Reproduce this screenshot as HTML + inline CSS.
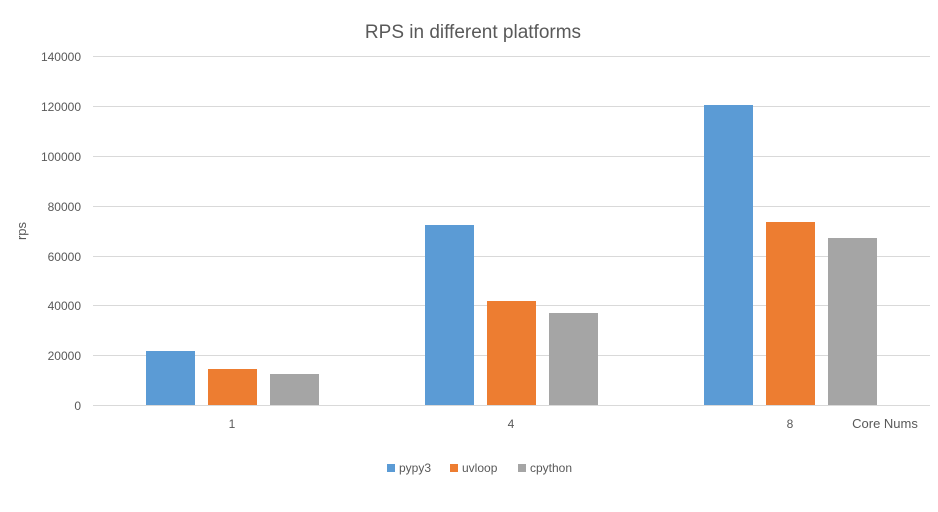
<!DOCTYPE html>
<html><head><meta charset="utf-8"><style>body{margin:0;background:#fff}svg{display:block}</style></head><body>
<svg width="938" height="512" xmlns="http://www.w3.org/2000/svg" font-family="'Liberation Sans',sans-serif">
<rect width="938" height="512" fill="#fff"/>
<text x="473" y="38" text-anchor="middle" font-size="19" fill="#595959">RPS in different platforms</text>
<g stroke="#d9d9d9" stroke-width="1">
<line x1="93" x2="930" y1="56.5" y2="56.5"/><line x1="93" x2="930" y1="106.5" y2="106.5"/>
<line x1="93" x2="930" y1="156.5" y2="156.5"/><line x1="93" x2="930" y1="206.5" y2="206.5"/>
<line x1="93" x2="930" y1="256.5" y2="256.5"/><line x1="93" x2="930" y1="305.5" y2="305.5"/>
<line x1="93" x2="930" y1="355.5" y2="355.5"/><line x1="93" x2="930" y1="405.5" y2="405.5"/>
</g>
<g font-size="12" fill="#595959" text-anchor="end">
<text x="81" y="61">140000</text><text x="81" y="111">120000</text><text x="81" y="161">100000</text>
<text x="81" y="211">80000</text><text x="81" y="261">60000</text><text x="81" y="310">40000</text>
<text x="81" y="360">20000</text><text x="81" y="410">0</text>
</g>
<text transform="translate(26,231) rotate(-90)" text-anchor="middle" font-size="13" fill="#595959">rps</text>
<g fill="#5b9bd5"><rect x="146" y="351" width="49" height="54"/><rect x="425" y="225" width="49" height="180"/><rect x="704" y="105" width="49" height="300"/></g>
<g fill="#ed7d31"><rect x="208" y="369" width="49" height="36"/><rect x="487" y="301" width="49" height="104"/><rect x="766" y="222" width="49" height="183"/></g>
<g fill="#a5a5a5"><rect x="270" y="374" width="49" height="31"/><rect x="549" y="313" width="49" height="92"/><rect x="828" y="238" width="49" height="167"/></g>
<g font-size="12" fill="#595959" text-anchor="middle">
<text x="232" y="428">1</text><text x="511" y="428">4</text><text x="790" y="428">8</text>
</g>
<text x="885" y="428" text-anchor="middle" font-size="13" fill="#595959">Core Nums</text>
<g font-size="12" fill="#595959">
<rect x="387" y="464" width="8" height="8" fill="#5b9bd5"/><text x="399" y="472">pypy3</text>
<rect x="450" y="464" width="8" height="8" fill="#ed7d31"/><text x="462" y="472">uvloop</text>
<rect x="518" y="464" width="8" height="8" fill="#a5a5a5"/><text x="530" y="472">cpython</text>
</g>
</svg>
</body></html>
